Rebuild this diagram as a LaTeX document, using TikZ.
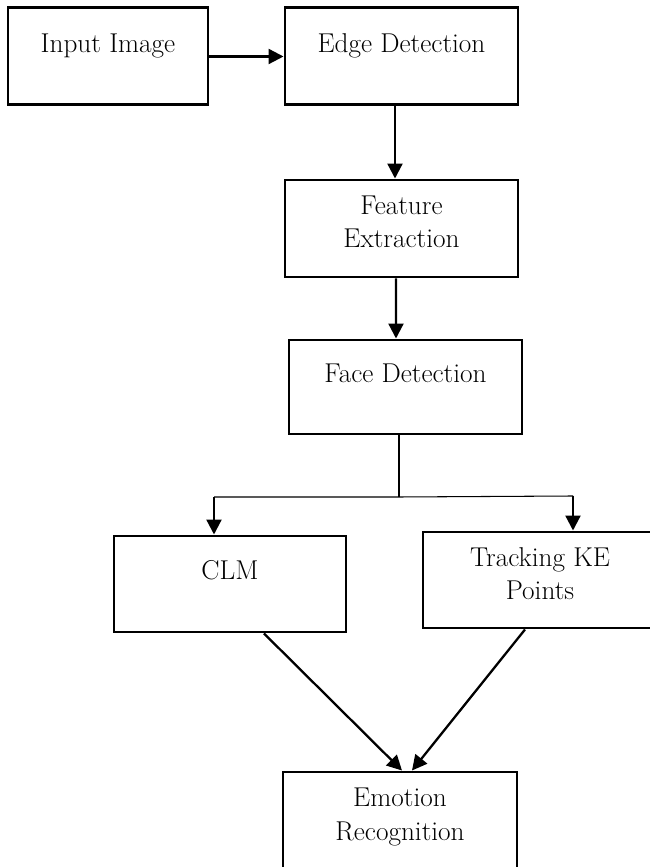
\documentclass[tikz,border=0pt]{standalone}
\usepackage{tikz}
\usetikzlibrary{arrows.meta}
\usetikzlibrary{calc}

\tikzset{
    blok/.style={draw, line width=1.7pt, inner xsep=2pt, inner ysep=0pt, align=center,
                 font=\fontsize{15.5}{18.8}\selectfont},
    pijl/.style={-{Triangle[length=0.3cm, width=0.3cm]}, line width=1.3pt},
    dun/.style={line width=0.6pt}
}

\begin{document}
\begin{tikzpicture}
    % Cadre de la page
    \useasboundingbox (0, 0) rectangle (13, 17.34);
    \clip (0, 0) rectangle (13, 17.34);

    % Blocs du haut
    \node[blok, minimum width=4cm, text height=0.9cm, text depth=1.04cm] (input) at (2.16, 16.21) {Input Image};
    \node[blok, minimum width=4.66cm, text height=0.9cm, text depth=1.04cm] (edge) at (8.03, 16.21) {Edge Detection};
    \node[blok, minimum width=4.66cm, text height=1.36cm, text depth=0.58cm] (feature) at (8.03, 12.77) {Feature\\Extraction};
    \node[blok, minimum width=4.66cm, text height=0.86cm, text depth=1.02cm] (face) at (8.11, 9.60) {Face Detection};

    % Blocs du bas
    \node[blok, minimum width=4.64cm, text height=0.88cm, text depth=1.04cm] (clm) at (4.60, 5.66) {CLM};
    \node[blok, minimum width=4.68cm, text height=1.36cm, text depth=0.56cm] (track) at (10.80, 5.74) {Tracking KE\\Points};
    \node[blok, minimum width=4.68cm, text height=1.36cm, text depth=0.56cm] (emotion) at (8.00, 0.94) {Emotion\\Recognition};

    % Fleches principales
    \draw[pijl] (input.east) -- (edge.west);
    \draw[pijl] ([xshift=-0.13cm]edge.south) -- ([xshift=-0.13cm]feature.north);
    \draw[pijl] ([xshift=-0.11cm]feature.south) -- ([xshift=-0.19cm]face.north);

    % Embranchement
    \coordinate (split) at (7.98, 7.40);
    \coordinate (linkshoek) at (4.28, 7.40);
    \coordinate (rechtshoek) at (11.46, 7.42);
    \draw[dun] ([xshift=-0.13cm]face.south) -- (split);
    \draw[dun] (linkshoek) -- (split) -- (rechtshoek);
    \draw[pijl] (linkshoek) -- (linkshoek |- clm.north);
    \draw[pijl] (rechtshoek) -- (rechtshoek |- track.north);

    % Vers la reconnaissance
    \draw[pijl] ([xshift=0.68cm]clm.south) -- ([xshift=0.04cm]emotion.north);
    \draw[pijl] ([xshift=-0.30cm]track.south) -- ([xshift=0.24cm]emotion.north);
\end{tikzpicture}
\end{document}
